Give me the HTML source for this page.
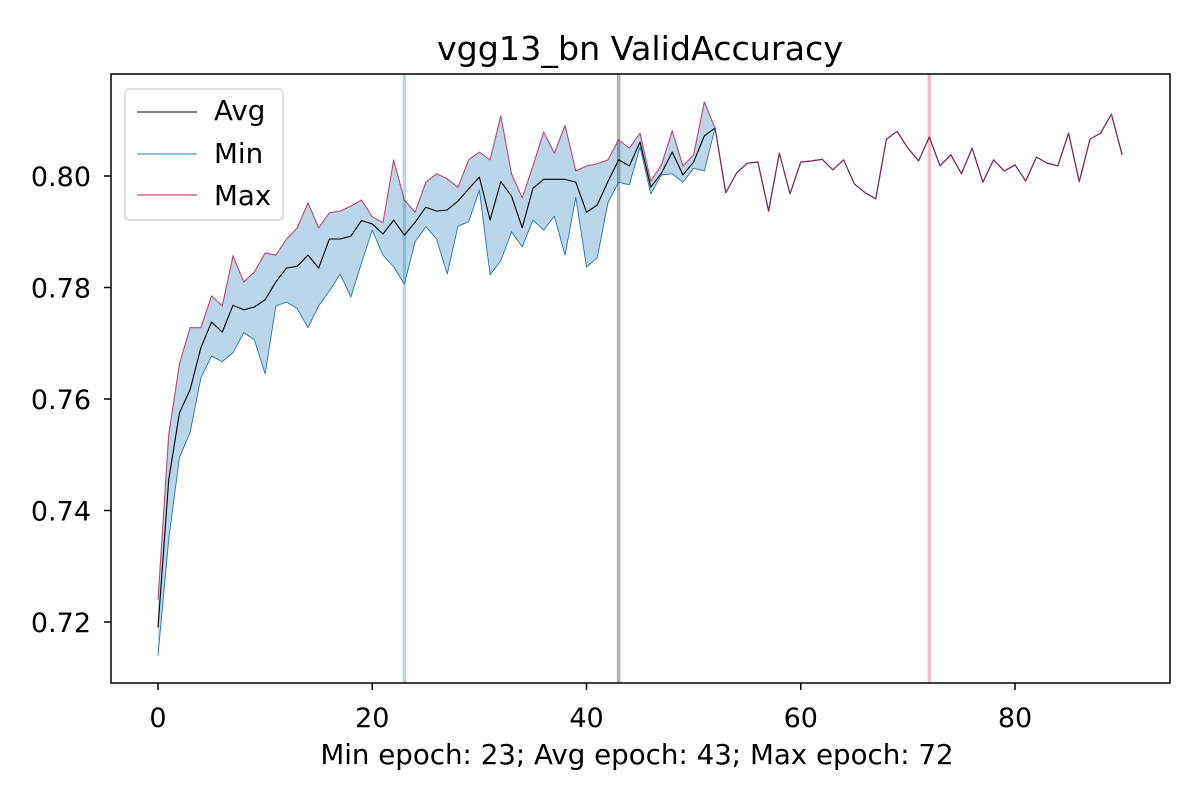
<!DOCTYPE html>
<html><head><meta charset="utf-8"><style>
body{margin:0;background:#fff;}
svg{font-family:"DejaVu Sans","Liberation Sans",sans-serif;}
</style></head><body>
<svg id="chart" width="1200" height="800" viewBox="0 0 1200 800" xmlns="http://www.w3.org/2000/svg">
<rect width="1200" height="800" fill="#fff"/>
<g id="plot"></g>
<text x="640" y="60" font-size="33.3" text-anchor="middle">vgg13_bn ValidAccuracy</text>
<text x="637" y="764" font-size="27.7" text-anchor="middle">Min epoch: 23; Avg epoch: 43; Max epoch: 72</text>
<g>
<rect x="125" y="89" width="158" height="131" rx="4" fill="#fff" fill-opacity="0.8" stroke="#d5d5d5" stroke-width="1.5"/>
<line x1="137" y1="112" x2="197" y2="112" stroke="#000" stroke-width="1.1"/>
<text x="214" y="120" font-size="27.7">Avg</text>
<line x1="137" y1="154" x2="197" y2="154" stroke="#1f77b4" stroke-width="1.1"/>
<text x="214" y="163" font-size="27.7">Min</text>
<line x1="137" y1="195" x2="197" y2="195" stroke="#c2185b" stroke-width="1.1"/>
<text x="214" y="205" font-size="27.7">Max</text>
</g>
</svg>
<script>
const avgVals=[0.719,0.7455,0.7575,0.7617,0.7692,0.7738,0.772,0.7768,0.776,0.7765,0.7778,0.781,0.7835,0.7838,0.7858,0.7835,0.7887,0.7887,0.7892,0.792,0.7914,0.7896,0.7921,0.7894,0.7917,0.7944,0.7937,0.7939,0.7955,0.7977,0.7998,0.7921,0.799,0.7964,0.7907,0.7978,0.7994,0.7994,0.7994,0.7989,0.7935,0.7948,0.799,0.8029,0.8018,0.8061,0.798,0.8005,0.8043,0.8002,0.8025,0.8072,0.8086,0.797,0.8005,0.8023,0.8025,0.7937,0.8041,0.7968,0.8025,0.8027,0.803,0.8011,0.8029,0.7986,0.797,0.7959,0.8066,0.808,0.805,0.8027,0.807,0.8018,0.8038,0.8004,0.805,0.7989,0.8029,0.8009,0.802,0.7991,0.8034,0.8023,0.8018,0.8077,0.799,0.8066,0.8077,0.8111,0.8038];
const minVals=[0.714,0.7348,0.7495,0.754,0.7638,0.7677,0.7667,0.7683,0.7719,0.7706,0.7645,0.7767,0.7774,0.7762,0.7728,0.7767,0.7794,0.7824,0.7783,0.7844,0.7903,0.7858,0.7837,0.7806,0.7882,0.7909,0.7887,0.7824,0.791,0.7918,0.7975,0.7823,0.7848,0.79,0.7873,0.7921,0.7903,0.7928,0.7858,0.7962,0.7837,0.7853,0.7952,0.7989,0.7984,0.8052,0.7968,0.8002,0.8004,0.7989,0.8014,0.8009,0.8086];
const maxVals=[0.724,0.7536,0.7663,0.7728,0.7728,0.7785,0.7767,0.7857,0.781,0.7828,0.7862,0.7858,0.7887,0.7907,0.7952,0.7907,0.7934,0.7937,0.7946,0.7957,0.7927,0.7916,0.8029,0.7957,0.7935,0.7989,0.8004,0.7995,0.798,0.8029,0.8043,0.8029,0.8108,0.8004,0.7961,0.8018,0.8079,0.8041,0.8091,0.8009,0.8018,0.8022,0.8029,0.8065,0.805,0.8077,0.7991,0.802,0.8081,0.8018,0.8038,0.8133,0.8086];
const xTicks=[0,20,40,60,80];
const yTicks=[0.72,0.74,0.76,0.78,0.80];
const markerEpochs=[23,43,72];
const markerColors=["rgba(31,119,180,0.3)","rgba(0,0,0,0.3)","rgba(214,39,90,0.3)"];
const NS="http://www.w3.org/2000/svg";
const X0=111,X1=1170,Y0=74,Y1=683;
const xs=e=>158+e*(1015-158)/80;
function yS(v){return 176+(0.80-v)*(622-176)/0.08;}
const g=document.getElementById('plot');
function mk(t,a){const el=document.createElementNS(NS,t);for(const k in a)el.setAttribute(k,a[k]);g.appendChild(el);return el;}
const n=avgVals.length;
const minFull=avgVals.map((v,i)=>i<minVals.length?minVals[i]:v);
const maxFull=avgVals.map((v,i)=>i<maxVals.length?maxVals[i]:v);
let d="";
for(let i=0;i<n;i++)d+=(i?"L":"M")+xs(i)+","+yS(maxFull[i]);
for(let i=n-1;i>=0;i--)d+="L"+xs(i)+","+yS(minFull[i]);
const band=mk('path',{d:d+"Z",fill:"rgba(31,119,180,0.3)",stroke:"none"});


markerEpochs.forEach((e,i)=>{
 const l=mk('line',{x1:xs(e),x2:xs(e),y1:Y0,y2:Y1,stroke:markerColors[i],"stroke-width":3.5});
 
 
});
function line(arr,color,w,name,op){
 const p=mk('polyline',{points:arr.map((v,i)=>xs(i)+","+yS(v)).join(" "),fill:"none",stroke:color,"stroke-width":w,"stroke-linejoin":"round","stroke-opacity":op});
 
 
}
line(avgVals,"#000",1.1,"avg-line",1);
line(minFull,"#1f77b4",0.9,"min-line",1);
line(maxFull,"#b0104a",1.1,"max-line",0.75);
const frame=mk('rect',{x:X0,y:Y0,width:X1-X0,height:Y1-Y0,fill:"none",stroke:"#000","stroke-width":1.5});


xTicks.forEach(t=>{
 mk('line',{x1:xs(t),x2:xs(t),y1:Y1,y2:Y1+7,stroke:"#000","stroke-width":1.5});
 const tx=mk('text',{x:xs(t),y:727,"font-size":27,"text-anchor":"middle"});
 tx.textContent=String(t);
 
 
});
yTicks.forEach(t=>{
 mk('line',{x1:X0-7,x2:X0,y1:yS(t),y2:yS(t),stroke:"#000","stroke-width":1.5});
 const tx=mk('text',{x:91,y:yS(t)+10,"font-size":27,"text-anchor":"end"});
 tx.textContent=t.toFixed(2);
 
 
});
</script>
</body></html>
